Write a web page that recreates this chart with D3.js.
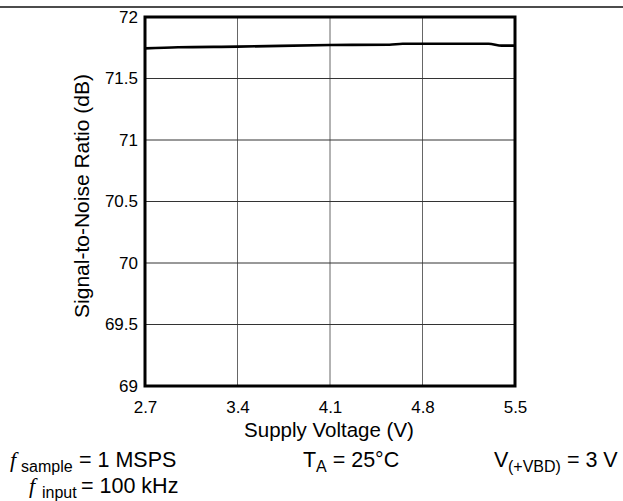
<!DOCTYPE html>
<html><head><meta charset="utf-8">
<script src="https://cdn.jsdelivr.net/npm/d3@7/dist/d3.min.js"></script>
<style>body{margin:0;background:#fff}svg{display:block;font-family:"Liberation Sans",Arial,sans-serif}</style>
</head><body><svg id="c" width="623" height="501"></svg>
<script>
const voltage = [2.7, 2.95, 3.4, 4.1, 4.55, 4.65, 4.8, 5.3, 5.4, 5.5];
const snr = [71.745, 71.754, 71.759, 71.772, 71.775, 71.783, 71.783, 71.783, 71.767, 71.767];
const xTicks = [2.7, 3.4, 4.1, 4.8, 5.5];
const yTicks = [69, 69.5, 70, 70.5, 71, 71.5, 72];

const svg = d3.select("#c");
const m = {l:145, r:515, t:17, b:386};
const x = d3.scaleLinear().domain([2.7,5.5]).range([m.l,m.r]);
const y = d3.scaleLinear().domain([69,72]).range([m.b,m.t]);
const FF = "Liberation Sans, Arial, sans-serif";

svg.append("line").attr("x1",0).attr("x2",623).attr("y1",7).attr("y2",7).attr("stroke","#111").attr("stroke-width",1.5);

// grid
svg.append("g").selectAll("line").data(xTicks.slice(1,-1)).join("line")
  .attr("x1",d=>x(d)).attr("x2",d=>x(d)).attr("y1",m.t).attr("y2",m.b)
  .attr("stroke","#666").attr("stroke-width",1);
svg.append("g").selectAll("line").data(yTicks.slice(1,-1)).join("line")
  .attr("x1",m.l).attr("x2",m.r).attr("y1",d=>y(d)).attr("y2",d=>y(d))
  .attr("stroke","#333").attr("stroke-width",1);

// axes labels
const xa = d3.axisBottom(x).tickValues(xTicks).tickSize(0).tickPadding(15).tickFormat(d3.format(".1f"));
const gx = svg.append("g").attr("transform",`translate(0,${m.b})`).call(xa);
gx.select(".domain").remove();
gx.selectAll("text").attr("font-size",17).attr("fill","#000").attr("font-family",FF);
const ya = d3.axisLeft(y).tickValues(yTicks).tickSize(0).tickPadding(7).tickFormat(d=>String(d));
const gy = svg.append("g").attr("transform",`translate(${m.l},0)`).call(ya);
gy.select(".domain").remove();
gy.selectAll("text").attr("font-size",17).attr("fill","#000").attr("font-family",FF);

// frame
svg.append("rect").attr("x",m.l).attr("y",m.t).attr("width",m.r-m.l).attr("height",m.b-m.t)
  .attr("fill","none").attr("stroke","#000").attr("stroke-width",3);

// data line
svg.append("path").datum(voltage.map((v,i)=>[v,snr[i]]))
  .attr("d",d3.line().x(d=>x(d[0])).y(d=>y(d[1])).curve(d3.curveMonotoneX))
  .attr("fill","none").attr("stroke","#000").attr("stroke-width",2.6);

// axis titles
svg.append("text").attr("x",329).attr("y",437).attr("text-anchor","middle").attr("font-size",20.5).text("Supply Voltage (V)");
svg.append("text").attr("transform","translate(89,196) rotate(-90)").attr("text-anchor","middle").attr("font-size",21).text("Signal-to-Noise Ratio (dB)");

// annotations
function note(xMain, xSub, xRest, yp, main, sub, rest, italic){
  const t = svg.append("text").attr("y",yp).attr("font-size",21.5);
  const a = t.append("tspan").attr("x",xMain).text(main);
  if (italic) a.attr("font-style","italic").attr("font-family","Liberation Serif, serif").attr("font-size",22);
  t.append("tspan").attr("x",xSub).attr("font-size",16).attr("dy",5).text(sub);
  const r = t.append("tspan").attr("dy",-5).text(rest);
  if (xRest != null) r.attr("x", xRest);
}
note(10, 21, 79, 467, "f", "sample", "= 1 MSPS", true);
note(29, 42, 81, 493, "f", "input", "= 100 kHz", true);
note(303, 316, null, 467, "T", "A", " = 25°C", false);
note(494, 508, null, 467, "V", "(+VBD)", " = 3 V", false);
</script></body></html>
